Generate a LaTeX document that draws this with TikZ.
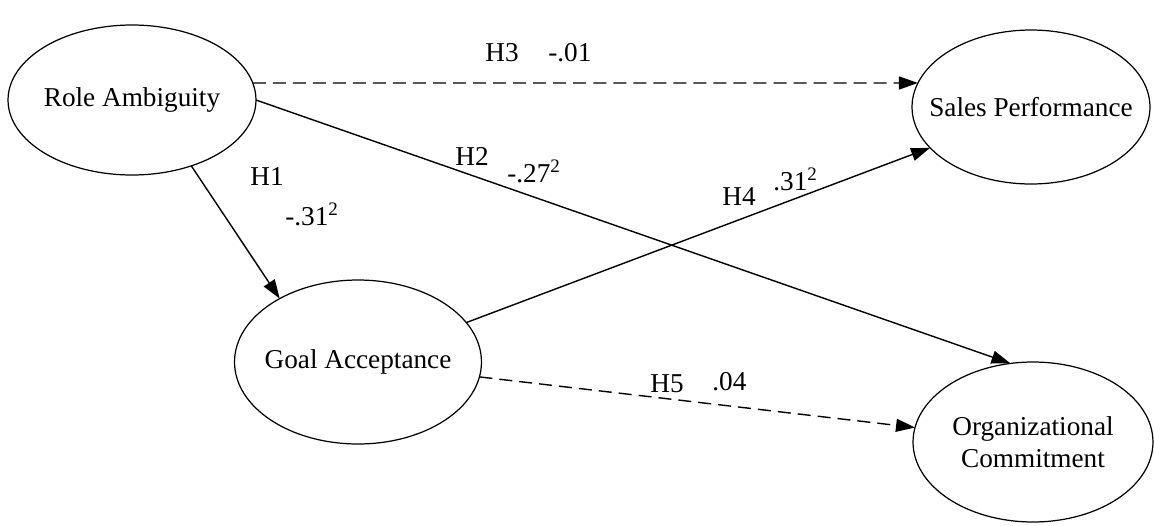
\documentclass[tikz,border=0pt]{standalone}
\usepackage{fontspec}
\setmainfont{Liberation Serif}
\usetikzlibrary{arrows.meta, shapes.geometric}

\begin{document}
\begin{tikzpicture}[
  x=0.02cm, y=-0.02cm,
  every node/.style={font=\fontsize{15.5}{18}\selectfont},
  construct/.style={
    draw, ellipse, line width=0.7pt,
    inner xsep=-1cm, inner ysep=0pt, outer sep=0pt,
    align=center
  },
  hyp/.style={-{Triangle[length=3.8mm, width=2.6mm]}, line width=0.8pt},
  hypns/.style={hyp, dash pattern=on 7.4pt off 4pt},
  coef/.style={inner sep=0pt, anchor=base west}
]
  \useasboundingbox (0,0) rectangle (1154,525);

  % Constructs
  \node[construct, minimum width=4.96cm, minimum height=3cm] (ra) at (132,100) {Role Ambiguity};
  \node[construct, minimum width=4.76cm, minimum height=3.08cm] (sp) at (1031,107) {Sales Performance};
  \node[construct, minimum width=4.94cm, minimum height=3.28cm] (ga) at (358,362) {Goal Acceptance};
  \node[construct, minimum width=4.8cm, minimum height=3.2cm] (oc) at (1033,442) {Organizational\\Commitment};

  % Paths
  \draw[hypns] (ra.8) -- (sp.168);
  \draw[hyp] (ra.0) -- (oc.106);
  \draw[hyp] (ra.-48) -- (ga.141);
  \draw[hyp] (ga.20) -- (sp.202);
  \draw[hypns] (ga.-7) -- (oc.173);

  % Hypotheses and coefficients
  \node[coef] (h3) at (485,61) {H3};
  \node[coef] (b3) at (548,61) {-.01};
  \node[coef] (h2) at (455,165) {H2};
  \node[coef] (b2) at (507,182) {-.27\textsuperscript{2}};
  \node[coef] (h1) at (250,185) {H1};
  \node[coef] (b1) at (285,225) {-.31\textsuperscript{2}};
  \node[coef] (h4) at (722,205) {H4};
  \node[coef] (b4) at (773,190) {.31\textsuperscript{2}};
  \node[coef] (h5) at (650,392) {H5};
  \node[coef] (b5) at (712,390) {.04};

\end{tikzpicture}
\end{document}
